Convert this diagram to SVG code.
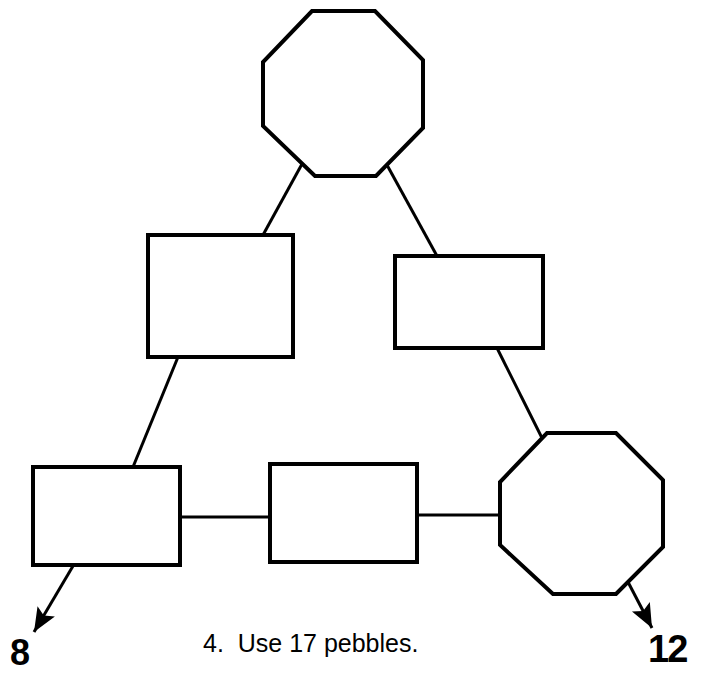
<svg xmlns="http://www.w3.org/2000/svg" width="709" height="675" viewBox="0 0 709 675">
<style>
.shape{fill:#fff;stroke:#000;stroke-width:4;stroke-linejoin:miter}
.conn line{stroke:#000;stroke-width:3}
.num{font-family:"Liberation Sans",Arial,sans-serif;font-weight:bold;fill:#000}
.cap{font-family:"Liberation Sans",Arial,sans-serif;fill:#000}
</style>
<defs>
<marker id="ah" viewBox="0 0 10 10" refX="10" refY="5" markerWidth="8" markerHeight="8" markerUnits="strokeWidth" orient="auto">
<path d="M0,0.8 L10,5 L0,9.2 L2,5 Z" fill="#000"/>
</marker>
</defs>
<g id="connectors" class="conn">
<line x1="302" y1="164" x2="263" y2="235"/>
<line x1="387" y1="165" x2="437" y2="256"/>
<line x1="178" y1="357" x2="133" y2="467"/>
<line x1="497" y1="348" x2="542" y2="438"/>
<line x1="180" y1="517" x2="270" y2="517"/>
<line x1="417" y1="515" x2="500" y2="515"/>
<line x1="73" y1="566" x2="34" y2="632" marker-end="url(#ah)"/>
<line x1="628" y1="582" x2="652" y2="628" marker-end="url(#ah)"/>
</g>
<g id="oct-top"><polygon class="shape" points="312,11 375,11 423,60 423,128 376,176 315,176 263,126 263,62"/></g>
<g id="rect-left"><rect class="shape" x="148" y="235" width="145" height="122"/></g>
<g id="rect-right"><rect class="shape" x="395" y="256" width="148" height="92"/></g>
<g id="rect-bottom-left"><rect class="shape" x="33" y="467" width="147" height="98"/></g>
<g id="rect-bottom-mid"><rect class="shape" x="270" y="464" width="147" height="98"/></g>
<g id="oct-bottom-right"><polygon class="shape" points="547,433 616,433 663,480 663,547 616,594 553,594 500,545 500,482"/></g>
<g id="labels">
<text class="num" x="10" y="665" font-size="36">8</text>
<text class="num" x="648" y="662" font-size="38" letter-spacing="-2">12</text>
<text class="cap" x="203" y="652" font-size="25" xml:space="preserve">4.  Use 17 pebbles.</text>
</g>
</svg>
